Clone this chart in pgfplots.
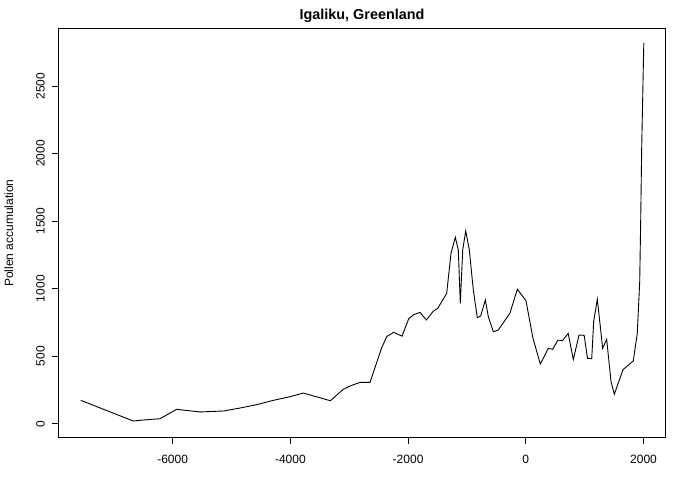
\documentclass[border=0pt]{standalone}
\usepackage{pgfplots}
\pgfplotsset{compat=1.18}
\usepackage{fontspec}
\setmainfont{Liberation Sans}
\begin{document}
\begin{tikzpicture}
\useasboundingbox (-59bp,-43bp) rectangle (621bp,437bp);
\begin{axis}[
  scale only axis,
  width=606bp, height=408bp,
  at={(0,0)}, anchor=south west,
  xmin=-7931, xmax=2365, ymin=-98.5, ymax=2923,
  axis line style={line width=1bp},
  every tick/.style={black, line width=1bp},
  tick align=outside, major tick length=7bp,
  xtick={-6000,-4000,-2000,0,2000},
  xticklabels={-6000,-4000,-2000,0,2000},
  ytick={0,500,1000,1500,2000,2500},
  yticklabels={0,500,1000,1500,2000,2500},
  xtick pos=bottom, ytick pos=left,
  tick label style={font=\fontsize{12bp}{14bp}\selectfont},
  yticklabel style={xshift=-7bp, rotate=90, anchor=south, inner sep=0pt},
  xticklabel style={anchor=north, inner sep=0pt, yshift=-11bp},
  title={Igaliku, Greenland},
  title style={font=\fontsize{14.4bp}{17bp}\selectfont\bfseries, at={(axis description cs:0.5,1)}, anchor=base, yshift=4bp, inner sep=0pt},
  ylabel={Pollen accumulation},
  ylabel style={font=\fontsize{12bp}{14bp}\selectfont, at={(axis description cs:-0.0759,0.5)}, anchor=base, inner sep=0pt},
]
\addplot[black, line width=0.9bp] coordinates {
(-7562,173) (-6669,20) (-6509,27) (-6215,37) (-5931,107) (-5864,103)
(-5535,87) (-5139,94) (-4856,116) (-4572,141) (-4290,173) (-4006,200)
(-3780,227) (-3320,170) (-3101,255) (-2958,284) (-2817,306) (-2647,306)
(-2450,560) (-2363,645) (-2245,677) (-2103,648) (-1990,777) (-1911,805)
(-1798,825) (-1690,768) (-1572,833) (-1495,855) (-1344,966) (-1271,1262)
(-1198,1381) (-1147,1287) (-1113,892) (-1072,1287) (-1021,1427) (-960,1287)
(-892,990) (-824,785) (-766,798) (-688,916) (-637,793) (-552,681)
(-467,694) (-268,820) (-144,996) (3,910) (122,632) (247,442)
(382,558) (457,551) (544,618) (627,617) (720,669) (807,475)
(904,657) (992,654) (1048,484) (1120,482) (1153,756) (1215,922)
(1306,558) (1374,625) (1448,311) (1504,218) (1651,400) (1826,465)
(1894,670) (1935,1050) (1952,1509) (1969,2046) (1996,2632) (2005,2818)
};
\end{axis}
\end{tikzpicture}
\end{document}
